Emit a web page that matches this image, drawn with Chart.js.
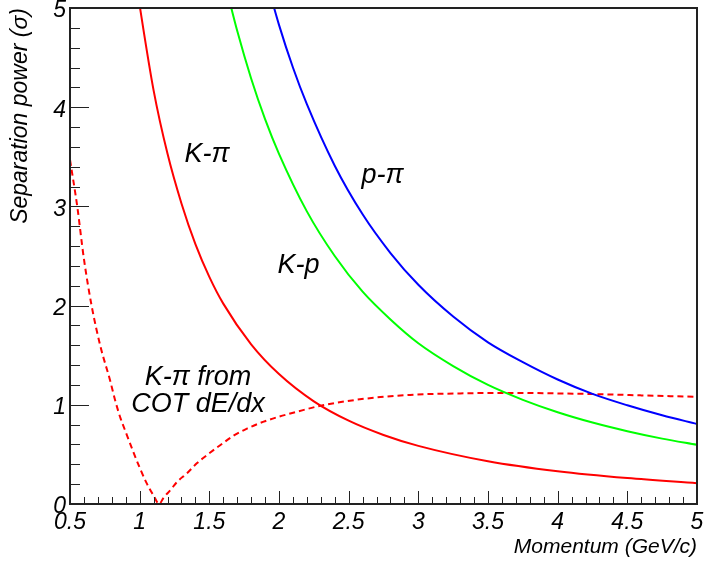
<!DOCTYPE html>
<html>
<head>
<meta charset="utf-8">
<script src="https://cdn.jsdelivr.net/npm/chart.js@4.4.1/dist/chart.umd.min.js"></script>
<style>
  html, body { margin: 0; padding: 0; background: #fff; }
  #wrap { width: 705px; height: 562px; }
</style>
</head>
<body>
<div id="wrap"><canvas id="sep-chart" width="705" height="562"></canvas></div>
<script>
// momentum (GeV/c) and separation power (sigma)
const kpiP   = [0.97, 1.1, 1.2, 1.3, 1.4, 1.5, 1.6, 1.8, 2.0, 2.25, 2.5, 2.75, 3.0, 3.5, 4.0, 4.5, 5.0];
const kpiSep = [5.29, 4.17, 3.53, 3.03, 2.62, 2.29, 2.02, 1.61, 1.31, 1.035, 0.84, 0.696, 0.586, 0.431, 0.330, 0.261, 0.21];

const kpP   = [1.62, 1.7, 1.8, 1.9, 2.0, 2.2, 2.4, 2.6, 2.8, 3.0, 3.25, 3.5, 3.75, 4.0, 4.25, 4.5, 4.75, 5.0];
const kpSep = [5.21, 4.77, 4.29, 3.88, 3.53, 2.95, 2.50, 2.14, 1.86, 1.62, 1.39, 1.20, 1.05, 0.925, 0.821, 0.734, 0.659, 0.596];

const ppiP   = [1.9, 2.0, 2.1, 2.2, 2.4, 2.6, 2.8, 3.0, 3.25, 3.5, 3.75, 4.0, 4.25, 4.5, 4.75, 5.0];
const ppiSep = [5.33, 4.83, 4.40, 4.03, 3.41, 2.92, 2.53, 2.21, 1.89, 1.63, 1.43, 1.255, 1.11, 0.995, 0.894, 0.807];

const dedxP   = [0.5, 0.552, 0.6, 0.655, 0.72, 0.787, 0.823, 0.859, 0.907, 0.954, 1.002, 1.05, 1.1, 1.14, 1.17, 1.22, 1.27, 1.34, 1.41, 1.48, 1.58, 1.67, 1.77, 1.89, 2.0, 2.13, 2.28, 2.58, 2.94, 3.3, 3.6, 4.2, 4.6, 5.0];
const dedxSep = [3.47, 3.0, 2.47, 2.0, 1.58, 1.25, 1.05, 0.88, 0.70, 0.527, 0.36, 0.21, 0.085, 0.0, 0.06, 0.14, 0.225, 0.31, 0.41, 0.49, 0.595, 0.685, 0.76, 0.83, 0.88, 0.93, 0.985, 1.055, 1.10, 1.115, 1.12, 1.11, 1.095, 1.08];

const xTicks = [0.5, 1, 1.5, 2, 2.5, 3, 3.5, 4, 4.5, 5];
const yTicks = [0, 1, 2, 3, 4, 5];

// curve labels: [text, momentum, sigma]
const curveLabels = [
    ['K-\u03c0', 1.483, 3.45],
    ['p-\u03c0', 2.743, 3.236],
    ['K-p', 2.14, 2.33],
    ['K-\u03c0 from', 1.419, 1.2],
    ['COT dE/dx', 1.419, 0.927],
];

const FONT = '"Liberation Sans", Arial, Helvetica, sans-serif';
const pts = (xs, ys) => xs.map((x, i) => ({ x, y: ys[i] }));

const line = (label, xs, ys, color, dash) => ({
    label,
    data: pts(xs, ys),
    borderColor: color,
    borderWidth: 2,
    borderDash: dash || [],
    pointRadius: 0,
    fill: false,
    cubicInterpolationMode: 'monotone',
});

const framePlugin = {
    id: 'frame',
    afterDatasetsDraw(chart) {
        const { ctx, chartArea: a, scales: { x, y } } = chart;
        ctx.save();
        ctx.strokeStyle = '#222';
        ctx.lineWidth = 1;
        // y ticks, inside
        for (let v = 0; v <= 25; v++) {
            const py = Math.round(y.getPixelForValue(v * 0.2)) + 0.5;
            const len = v % 5 === 0 ? 19 : 10;
            ctx.beginPath();
            ctx.moveTo(a.left, py);
            ctx.lineTo(a.left + len, py);
            ctx.stroke();
        }
        // x ticks, inside
        for (let v = 5; v <= 50; v++) {
            const px = Math.round(x.getPixelForValue(v * 0.1)) + 0.5;
            const len = v % 5 === 0 ? 13 : 7;
            ctx.beginPath();
            ctx.moveTo(px, a.bottom);
            ctx.lineTo(px, a.bottom - len);
            ctx.stroke();
        }
        ctx.lineWidth = 2;
        ctx.strokeRect(a.left, a.top, a.right - a.left, a.bottom - a.top);
        ctx.restore();

        ctx.save();
        ctx.fillStyle = '#000';
        ctx.font = 'italic 27px ' + FONT;
        ctx.textAlign = 'center';
        ctx.textBaseline = 'alphabetic';
        curveLabels.forEach(([txt, px, sy]) => {
            ctx.fillText(txt, x.getPixelForValue(px), y.getPixelForValue(sy));
        });
        ctx.restore();
    },
};

new Chart(document.getElementById('sep-chart').getContext('2d'), {
    type: 'line',
    data: {
        datasets: [
            line('K-pi', kpiP, kpiSep, '#ff0000'),
            line('K-p', kpP, kpSep, '#00ff00'),
            line('p-pi', ppiP, ppiSep, '#0000ff'),
            line('K-pi dE/dx', dedxP, dedxSep, '#ff0000', [6, 4]),
        ],
    },
    options: {
        responsive: false,
        animation: false,
        layout: { padding: { top: 8, right: 8, left: 0, bottom: 0 } },
        plugins: { legend: { display: false }, tooltip: { enabled: false } },
        scales: {
            x: {
                type: 'linear',
                min: 0.5,
                max: 5,
                afterBuildTicks: (s) => { s.ticks = xTicks.map((value) => ({ value })); },
                afterFit: (s) => { s.height = 58; s.paddingLeft = 0; s.paddingRight = 0; },
                grid: { display: false, drawTicks: false },
                border: { display: false },
                ticks: {
                    color: '#000',
                    padding: 5,
                    maxRotation: 0,
                    autoSkip: false,
                    callback: (v) => String(v),
                    font: { family: FONT, size: 23, style: 'italic' },
                },
                title: {
                    display: true,
                    text: 'Momentum (GeV/c)',
                    align: 'end',
                    color: '#000',
                    padding: { top: 0, bottom: 2 },
                    font: { family: FONT, size: 21, style: 'italic' },
                },
            },
            y: {
                min: 0,
                max: 5,
                afterBuildTicks: (s) => { s.ticks = yTicks.map((value) => ({ value })); },
                afterFit: (s) => { s.width = 70; s.paddingTop = 0; s.paddingBottom = 0; },
                grid: { display: false, drawTicks: false },
                border: { display: false },
                ticks: {
                    color: '#000',
                    padding: 4,
                    labelOffset: 3,
                    callback: (v) => String(v),
                    font: { family: FONT, size: 23, style: 'italic' },
                },
                title: {
                    display: true,
                    text: 'Separation power (\u03c3)',
                    align: 'end',
                    color: '#000',
                    padding: { top: 7, bottom: 0 },
                    font: { family: FONT, size: 23, style: 'italic' },
                },
            },
        },
    },
    plugins: [framePlugin],
});
</script>
</body>
</html>
